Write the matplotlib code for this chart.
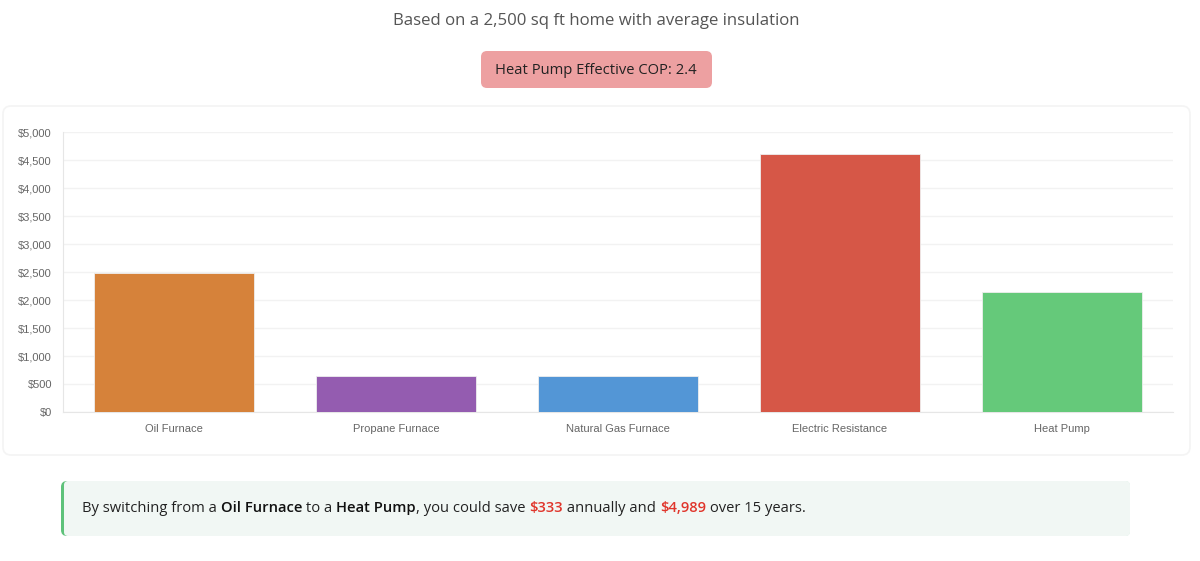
import matplotlib
matplotlib.use("Agg")
from matplotlib import pyplot as plt
from matplotlib.patches import FancyBboxPatch
from matplotlib.ticker import FuncFormatter, MultipleLocator

# annual heating cost per system
systems = ["Oil Furnace", "Propane Furnace", "Natural Gas Furnace", "Electric Resistance", "Heat Pump"]
costs = [2476, 648, 648, 4602, 2143]
colors = ["#d6823a", "#945cb0", "#5396d6", "#d65747", "#65c97a"]

subtitle = "Based on a 2,500 sq ft home with average insulation"
badge_text = "Heat Pump Effective COP: 2.4"
# (text, bold, color) pieces of the savings sentence
savings_parts = [
    ("By switching from a ", False, "#222222"),
    ("Oil Furnace", True, "#111111"),
    (" to a ", False, "#222222"),
    ("Heat Pump", True, "#111111"),
    (", you could save ", False, "#222222"),
    ("$333", True, "#e0352b"),
    (" annually and ", False, "#222222"),
    ("$4,989", True, "#e0352b"),
    (" over 15 years.", False, "#222222"),
]

W, H = 1200, 561
fig = plt.figure(figsize=(W / 100, H / 100), dpi=100)
fig.patch.set_facecolor("white")

# background layer in pixel coords (y down)
bg = fig.add_axes([0, 0, 1, 1], zorder=0)
bg.set_xlim(0, W)
bg.set_ylim(H, 0)
bg.axis("off")

uifont = "Open Sans"

bg.text(596, 21, subtitle, ha="center", va="center", fontsize=12.1,
        color="#555555", family=uifont)

bg.add_patch(FancyBboxPatch((481, 51), 231, 37, boxstyle="round,pad=0,rounding_size=6",
                            fc="#eda0a1", ec="none"))
bg.text(596, 70, badge_text, ha="center", va="center", fontsize=10.6,
        color="#222222", family=uifont)

# chart card
bg.add_patch(FancyBboxPatch((3, 106), 1187, 349, boxstyle="round,pad=0,rounding_size=8",
                            fc="white", ec="#f4f4f4", lw=1.2))

# savings box with green left border
bg.add_patch(FancyBboxPatch((61, 481), 1069, 55, boxstyle="round,pad=0,rounding_size=6",
                            fc="#5ec27a", ec="none"))
bg.add_patch(FancyBboxPatch((64, 481), 1066, 55, boxstyle="round,pad=0,rounding_size=4",
                            fc="#f1f7f4", ec="none"))

fig.canvas.draw()
renderer = fig.canvas.get_renderer()
x = 82
for txt, bold, col in savings_parts:
    t = bg.text(x, 508, txt, ha="left", va="center", fontsize=10.6, color=col,
                family=uifont, fontweight="semibold" if bold else "normal")
    x += t.get_window_extent(renderer=renderer).width

# bar chart
ax = fig.add_axes([63 / W, (H - 412) / H, 1110 / W, 280 / H], zorder=1)
ax.set_facecolor("none")
ax.bar(range(len(systems)), costs, width=0.72, color=colors, edgecolor="#eeeeee",
       linewidth=0.6, zorder=3)
ax.set_xlim(-0.5, len(systems) - 0.5)
ax.set_ylim(0, 5000)
ax.yaxis.set_major_locator(MultipleLocator(500))
ax.yaxis.set_major_formatter(FuncFormatter(lambda v, p: f"${v:,.0f}"))
ax.set_xticks(range(len(systems)))
ax.set_xticklabels(systems)
ax.grid(axis="y", color="#f2f2f2", lw=1, zorder=0)
for s in ["top", "right"]:
    ax.spines[s].set_visible(False)
for s in ["left", "bottom"]:
    ax.spines[s].set_color("#e6e6e6")
ax.tick_params(axis="both", colors="#666666", labelsize=8, length=0,
               labelfontfamily="Liberation Sans")
ax.tick_params(axis="y", pad=8)
ax.tick_params(axis="x", pad=9)

fig.savefig("out.png", dpi=100, facecolor="white")
